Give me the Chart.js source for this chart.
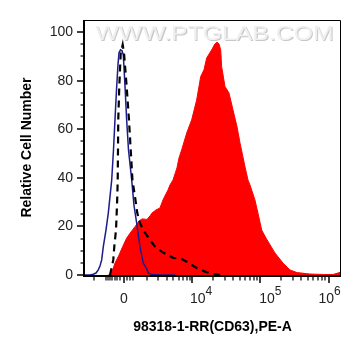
<!DOCTYPE html>
<html>
<head>
<meta charset="utf-8">
<script src="https://cdn.jsdelivr.net/npm/chart.js@4.4.1/dist/chart.umd.min.js"></script>
<style>
html,body{margin:0;padding:0;background:#fff;}
#wrap{width:361px;height:356px;}
</style>
</head>
<body>
<div id="wrap"><canvas id="c" width="361" height="356"></canvas></div>
<script>
// X values are positions on the biexponential PE-A display, in decades (3 = "0", 4 = 10^4, 5 = 10^5, 6 = 10^6)
const redX = [2.768, 2.798, 2.842, 2.871, 2.930, 2.984, 3.042, 3.105, 3.164, 3.223, 3.267, 3.340, 3.384, 3.413, 3.472, 3.530, 3.574, 3.618, 3.648, 3.677, 3.721, 3.779, 3.809, 3.848, 3.922, 3.995, 4.068, 4.127, 4.175, 4.215, 4.288, 4.336, 4.366, 4.395, 4.420, 4.434, 4.483, 4.541, 4.600, 4.659, 4.703, 4.776, 4.820, 4.849, 4.922, 4.966, 5.021, 5.084, 5.127, 5.215, 5.333, 5.435, 5.538, 5.728, 5.948, 6.065, 6.138, 6.183];
const redY = [0, 0, 2.5, 4.9, 8.2, 11.7, 15.2, 17.7, 19.9, 22.2, 23.1, 22.9, 24.3, 25.5, 26.8, 27.6, 30.9, 33.4, 35.0, 37.1, 39.1, 44.1, 48.2, 51.5, 58.5, 63.9, 72.1, 81.7, 84.5, 89.4, 92.7, 95.2, 95.8, 95.2, 92.7, 85.8, 77.6, 75.0, 68.0, 61.1, 54.4, 44.6, 39.1, 37.1, 30.9, 25.5, 18.5, 15.2, 13.2, 9.1, 4.9, 2.1, 1.0, 0.4, 0.2, 0.2, 0.8, 1.2];

const blueX = [2.417, 2.505, 2.553, 2.593, 2.626, 2.651, 2.676, 2.700, 2.739, 2.773, 2.798, 2.823, 2.849, 2.871, 2.896, 2.915, 2.930, 2.952, 2.974, 2.993, 3.018, 3.042, 3.069, 3.116, 3.149, 3.189, 3.237, 3.286, 3.336, 3.359, 3.413, 3.530, 3.750];
const blueY = [0, 0, 0.3, 0.8, 2.1, 3.7, 6.2, 11.7, 18.5, 25.5, 32.3, 39.1, 51.5, 63.9, 77.6, 86.5, 91.5, 92.7, 92.3, 90.6, 77.6, 63.9, 51.5, 39.1, 28.8, 21.4, 11.7, 4.9, 2.5, 0.8, 0.2, 0, 0];

const dashX = [2.798, 2.846, 2.861, 2.886, 2.896, 2.905, 2.911, 2.919, 2.934, 2.955, 2.984, 3.003, 3.042, 3.076, 3.127, 3.164, 3.198, 3.237, 3.286, 3.384, 3.457, 3.555, 3.725, 3.823, 3.922, 4.068, 4.190, 4.307, 4.410];
const dashY = [0, 6.2, 11.7, 18.5, 25.5, 32.3, 39.1, 63.9, 77.6, 91.3, 94.8, 91.5, 77.6, 63.9, 39.1, 32.3, 25.5, 21.4, 18.5, 14.4, 11.7, 9.6, 7.0, 6.9, 5.5, 2.9, 1.4, 0.4, 0];

const yTickValues = [0, 20, 40, 60, 80, 100];
const yMinorTicks = [5, 10, 15, 25, 30, 35, 45, 50, 55, 65, 70, 75, 85, 90, 95];
const xTickValues = [3, 4, 5, 6];
const xTickLabels = ['0', '10^4', '10^5', '10^6'];
const xMinorNearZero = [2.563, 2.739, 2.768, 2.798, 2.827, 2.871, 2.900, 2.944, 3.047, 3.091, 3.135, 3.340, 3.501, 3.633, 3.721, 3.809, 3.867, 3.926, 3.970];
const xTitle = '98318-1-RR(CD63),PE-A';
const yTitle = 'Relative Cell Number';
const watermark = 'WWW.PTGLAB.COM';

const FONT = "'Liberation Sans', Arial, Helvetica, sans-serif";
const xLabelShift = [0, 9, 10, 1];

const xMinorTicks = xMinorNearZero.slice();
[4, 5].forEach(d => { for (let k = 2; k <= 9; k++) xMinorTicks.push(d + Math.log10(k)); });

const toPts = (xs, ys) => xs.map((v, i) => ({x: v, y: ys[i]}));

const flowAxes = {
  id: 'flowAxes',
  beforeDatasetsDraw(chart) {
    const {ctx, chartArea: a} = chart;
    ctx.save();
    ctx.font = `21px ${FONT}`;
    ctx.textAlign = 'center';
    ctx.textBaseline = 'alphabetic';
    ctx.translate((a.left + a.right) / 2 + 2, a.top + 20);
    ctx.scale(1.18, 1);
    ctx.fillStyle = '#c8c8c8';
    ctx.fillText(watermark, 1, 1);
    ctx.fillStyle = '#f0f0f0';
    ctx.fillText(watermark, 0, 0);
    ctx.restore();
  },
  afterDatasetsDraw(chart) {
    const {ctx, chartArea: a, scales: {x, y}} = chart;
    const line = (x1, y1, x2, y2) => { ctx.beginPath(); ctx.moveTo(x1, y1); ctx.lineTo(x2, y2); ctx.stroke(); };
    ctx.save();
    ctx.strokeStyle = '#000';
    ctx.lineWidth = 1;
    ctx.beginPath();
    ctx.moveTo(a.left, a.top + 0.5);
    ctx.lineTo(a.right - 0.5, a.top + 0.5);
    ctx.lineTo(a.right - 0.5, a.bottom + 1);
    ctx.stroke();
    ctx.lineWidth = 2;
    line(a.left, a.top, a.left, a.bottom + 2);
    line(a.left - 1, a.bottom + 1, a.right, a.bottom + 1);
    ctx.lineWidth = 1.5;
    yTickValues.forEach(v => { const py = Math.round(y.getPixelForValue(v)); line(a.left - 7, py, a.left, py); });
    ctx.lineWidth = 1.2;
    yMinorTicks.forEach(v => { const py = Math.round(y.getPixelForValue(v)); line(a.left - 3.5, py, a.left, py); });
    ctx.lineWidth = 1.5;
    xTickValues.forEach(v => { const px = Math.round(x.getPixelForValue(v)); line(px, a.bottom + 2, px, a.bottom + 8); });
    ctx.lineWidth = 1.2;
    xMinorTicks.forEach(v => { const px = Math.round(x.getPixelForValue(v)); line(px, a.bottom + 2, px, a.bottom + 5.5); });
    ctx.fillStyle = '#222';
    ctx.textAlign = 'left';
    ctx.textBaseline = 'alphabetic';
    xTickValues.forEach((v, i) => {
      const px = x.getPixelForValue(v) + xLabelShift[i];
      const parts = xTickLabels[i].split('^');
      ctx.font = `14px ${FONT}`;
      const wb = ctx.measureText(parts[0]).width;
      let we = 0;
      if (parts[1]) { ctx.font = `12px ${FONT}`; we = ctx.measureText(parts[1]).width; }
      const left = px - (wb + we) / 2;
      ctx.font = `14px ${FONT}`;
      ctx.fillText(parts[0], left, a.bottom + 28);
      if (parts[1]) { ctx.font = `12px ${FONT}`; ctx.fillText(parts[1], left + wb, a.bottom + 20); }
    });
    ctx.restore();
  }
};

new Chart(document.getElementById('c'), {
  type: 'line',
  data: {
    datasets: [
      {label: 'Isotype control', data: toPts(dashX, dashY), borderColor: '#000', borderWidth: 2.2, borderDash: [7, 5], pointRadius: 0, fill: false, tension: 0, order: 1},
      {label: 'Blank', data: toPts(blueX, blueY), borderColor: '#1c1c8c', borderWidth: 1.5, pointRadius: 0, fill: false, tension: 0, order: 2},
      {label: '98318-1-RR', data: toPts(redX, redY), borderColor: '#ff0000', backgroundColor: '#ff0000', borderWidth: 1, pointRadius: 0, fill: 'origin', tension: 0, order: 3}
    ]
  },
  options: {
    responsive: false,
    animation: false,
    devicePixelRatio: 1,
    layout: {padding: {left: 0, right: 20, top: 20, bottom: 0}},
    plugins: {legend: {display: false}, tooltip: {enabled: false}},
    scales: {
      x: {
        type: 'linear', min: 2.417, max: 6.183,
        grid: {display: false, drawTicks: false},
        border: {display: false},
        ticks: {display: false},
        title: {display: true, text: xTitle, color: '#000', font: {family: FONT, size: 14, weight: 'bold'}, padding: {top: 44.4, bottom: 20}},
        afterFit: s => { s.height = 81; }
      },
      y: {
        type: 'linear', min: 0, max: 105,
        grid: {display: false, drawTicks: false},
        border: {display: false},
        afterBuildTicks: s => { s.ticks = yTickValues.map(v => ({value: v})); },
        ticks: {padding: 11, color: '#222', font: {family: FONT, size: 14}},
        title: {display: true, text: yTitle, color: '#000', font: {family: FONT, size: 14, weight: 'bold'}, padding: {top: 18.6, bottom: 0}},
        afterFit: s => { s.width = 84; }
      }
    }
  },
  plugins: [flowAxes]
});
</script>
</body>
</html>
